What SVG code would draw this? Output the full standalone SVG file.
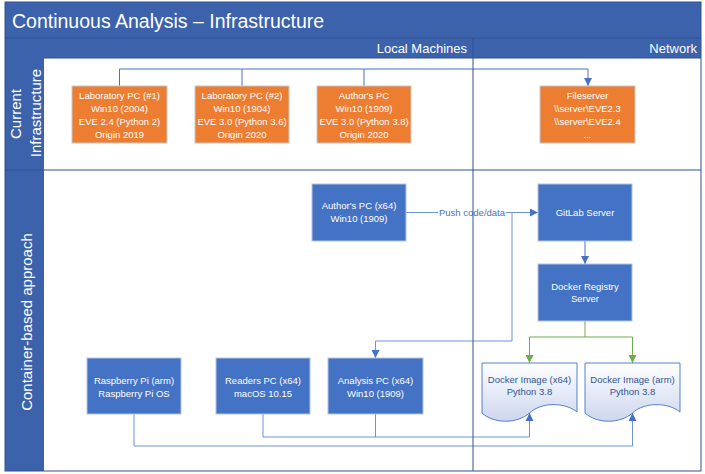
<svg xmlns="http://www.w3.org/2000/svg" width="705" height="474" viewBox="0 0 705 474">
<style>
text{font-family:"Liberation Sans",Arial,sans-serif}
.hdr{fill:#3C62AC}
.lbl{fill:#FFFFFF;font-size:15px}
.col{fill:#FFFFFF;font-size:13px;text-anchor:end}
.ob{fill:#ED7D31;stroke:#C8C8C8;stroke-width:1}
.bb{fill:#4472C4;stroke:#B4C3E3;stroke-width:1}
.bt{fill:#FFFFFF;font-size:9.5px;text-anchor:middle}
.doc{fill:url(#dg);stroke:#4472C4;stroke-width:0.9}
.dt{fill:#2F5597;font-size:9.5px;text-anchor:middle}
.c{fill:none;stroke:#4472C4;stroke-width:1}
.c2{fill:none;stroke:#6F93D4;stroke-width:1}
.g{fill:none;stroke:#70AD47;stroke-width:1}
.ln{stroke:#2F528F;stroke-width:1;fill:none}
</style>
<defs>
<linearGradient id="dg" x1="0" y1="0" x2="0" y2="1">
<stop offset="0" stop-color="#FFFFFF"/>
<stop offset="1" stop-color="#CDD6EE"/>
</linearGradient>
<marker id="ab" viewBox="0 0 10 10" refX="10" refY="5" markerWidth="8" markerHeight="8" markerUnits="userSpaceOnUse" orient="auto">
<path d="M0,0 L10,5 L0,10 Z" fill="#4472C4"/>
</marker>
<marker id="ag" viewBox="0 0 10 10" refX="10" refY="5" markerWidth="8" markerHeight="8" markerUnits="userSpaceOnUse" orient="auto">
<path d="M0,0 L10,5 L0,10 Z" fill="#70AD47"/>
</marker>
</defs>

<g id="frame">
<rect x="5" y="2" width="696" height="469" fill="#FFFFFF"/>
<rect class="hdr" x="5" y="2" width="696" height="36"/>
<rect class="hdr" x="5" y="38" width="696" height="20"/>
<rect class="hdr" x="5" y="58" width="39" height="413"/>
<line class="ln" x1="5" y1="38" x2="701" y2="38" stroke="#34579C"/>
<line class="ln" x1="44" y1="58" x2="701" y2="58"/>
<line class="ln" x1="5" y1="170" x2="701" y2="170"/>
<rect class="ln" x="5" y="2" width="696" height="469"/>
<text x="12" y="28" fill="#FFFFFF" font-size="19.5">Continuous Analysis – Infrastructure</text>
<text class="col" x="467" y="53">Local Machines</text>
<text class="col" x="697" y="53">Network</text>
<text class="lbl" transform="translate(21,114) rotate(-90)" text-anchor="middle">Current</text>
<text class="lbl" transform="translate(41,113) rotate(-90)" text-anchor="middle">Infrastructure</text>
<text class="lbl" transform="translate(32,322) rotate(-90)" text-anchor="middle" font-size="14.5">Container-based approach</text>
</g>

<g id="connectors">
<path class="c" d="M119.5,86 V69 H588 V86" marker-end="url(#ab)"/>
<path class="c" d="M242,86 V69"/>
<path class="c" d="M364,86 V69"/>
<path class="c2" d="M406,212.5 H538" marker-end="url(#ab)"/>
<path class="c2" d="M512,212.5 V341 H375.5 V358" marker-end="url(#ab)"/>
<path class="c" d="M585,241 V264" marker-end="url(#ab)"/>
<path class="g" d="M585,321 V337 H529.5 V363" marker-end="url(#ag)"/>
<path class="g" d="M585,337 H632.5 V363" marker-end="url(#ag)"/>
<path class="c2" d="M134,414 V446 H632.5 V413" marker-end="url(#ab)"/>
<path class="c2" d="M263,414 V437 H529.5 V413" marker-end="url(#ab)"/>
<path class="c2" d="M375.5,414 V437"/>
<rect x="438" y="206" width="68" height="13" fill="#FFFFFF"/>
<text x="472" y="216" fill="#4472C4" font-size="9.5" text-anchor="middle">Push code/data</text>
</g>

<line id="divider" class="ln" x1="473" y1="38" x2="473" y2="471"/>

<g id="lab1">
<rect class="ob" x="72" y="86" width="95" height="57"/>
<text class="bt" x="119.5" y="98.5">Laboratory PC (#1)</text>
<text class="bt" x="119.5" y="111.5">Win10 (2004)</text>
<text class="bt" x="119.5" y="124.5">EVE 2.4 (Python 2)</text>
<text class="bt" x="119.5" y="137.5">Origin 2019</text>
</g>
<g id="lab2">
<rect class="ob" x="195" y="86" width="94" height="57"/>
<text class="bt" x="242" y="98.5">Laboratory PC (#2)</text>
<text class="bt" x="242" y="111.5">Win10 (1904)</text>
<text class="bt" x="242" y="124.5">EVE 3.0 (Python 3.6)</text>
<text class="bt" x="242" y="137.5">Origin 2020</text>
</g>
<g id="authorpc">
<rect class="ob" x="317" y="86" width="94" height="57"/>
<text class="bt" x="364" y="98.5">Author's PC</text>
<text class="bt" x="364" y="111.5">Win10 (1909)</text>
<text class="bt" x="364" y="124.5">EVE 3.0 (Python 3.8)</text>
<text class="bt" x="364" y="137.5">Origin 2020</text>
</g>
<g id="fileserver">
<rect class="ob" x="540" y="86" width="95" height="57"/>
<text class="bt" x="587.5" y="98.5">Fileserver</text>
<text class="bt" x="587.5" y="111.5">\\server\EVE2.3</text>
<text class="bt" x="587.5" y="124.5">\\server\EVE2.4</text>
<text class="bt" x="587.5" y="137.5">...</text>
</g>

<g id="authorpc64">
<rect class="bb" x="312" y="184" width="94" height="57"/>
<text class="bt" x="359" y="208.5">Author's PC (x64)</text>
<text class="bt" x="359" y="221.5">Win10 (1909)</text>
</g>
<g id="gitlab">
<rect class="bb" x="538" y="184" width="94" height="57"/>
<text class="bt" x="585" y="216">GitLab Server</text>
</g>
<g id="registry">
<rect class="bb" x="538" y="264" width="94" height="57"/>
<text class="bt" x="585" y="289.5">Docker Registry</text>
<text class="bt" x="585" y="302">Server</text>
</g>
<g id="raspberry">
<rect class="bb" x="87" y="358" width="94" height="56"/>
<text class="bt" x="134" y="383.5">Raspberry Pi (arm)</text>
<text class="bt" x="134" y="396.5">Raspberry Pi OS</text>
</g>
<g id="readers">
<rect class="bb" x="216" y="358" width="94" height="56"/>
<text class="bt" x="263" y="383.5">Readers PC (x64)</text>
<text class="bt" x="263" y="396.5">macOS 10.15</text>
</g>
<g id="analysis">
<rect class="bb" x="328" y="358" width="95" height="56"/>
<text class="bt" x="375.5" y="383.5">Analysis PC (x64)</text>
<text class="bt" x="375.5" y="396.5">Win10 (1909)</text>
</g>
<g id="dockerx64">
<path class="doc" d="M482,363 H577 V412 C565,402 541,402 529.5,413 C517,424 494,424 482,413 Z"/>
<text class="dt" x="529.5" y="382.5">Docker Image (x64)</text>
<text class="dt" x="529.5" y="395">Python 3.8</text>
</g>
<g id="dockerarm">
<path class="doc" d="M585,363 H680 V412 C668,402 644,402 632.5,413 C620,424 597,424 585,413 Z"/>
<text class="dt" x="632.5" y="382.5">Docker Image (arm)</text>
<text class="dt" x="632.5" y="395">Python 3.8</text>
</g>
</svg>
